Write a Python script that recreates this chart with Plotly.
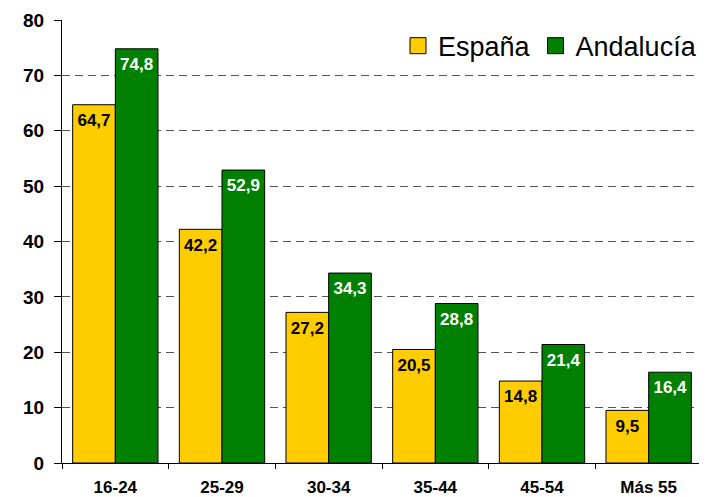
import plotly.graph_objects as go

categories = ["16-24", "25-29", "30-34", "35-44", "45-54", "Más 55"]
espana = [64.7, 42.2, 27.2, 20.5, 14.8, 9.5]
andalucia = [74.8, 52.9, 34.3, 28.8, 21.4, 16.4]
y_ticks = [0, 10, 20, 30, 40, 50, 60, 70, 80]
series_names = ["España", "Andalucía"]
series_colors = ["#FFCC00", "#008000"]
label_colors = ["black", "white"]

def fmt(v):
    return f"{v:.1f}".replace(".", ",")

fig = go.Figure()
for name, vals, col in zip(series_names, [espana, andalucia], series_colors):
    fig.add_trace(go.Bar(
        x=categories, y=vals, name=name,
        marker=dict(color=col, line=dict(color="black", width=1)),
        showlegend=False, hoverinfo="x+y",
    ))
# value labels placed just below each bar top
for name, vals, lc in zip(series_names, [espana, andalucia], label_colors):
    fig.add_trace(go.Scatter(
        x=categories, y=vals, mode="markers+text", name=name + " labels",
        text=[fmt(v) for v in vals], textposition="bottom center",
        textfont=dict(family="Liberation Sans, Arial", size=17, color=lc, weight="bold"),
        marker=dict(size=12, opacity=0), showlegend=False, hoverinfo="skip",
    ))
# legend entries with larger square swatches (on a hidden overlay axis)
for name, col in zip(series_names, series_colors):
    fig.add_trace(go.Scatter(
        x=[None], y=[None], mode="markers", name=name, xaxis="x2",
        marker=dict(symbol="square", size=16, color=col, line=dict(color="black", width=1)),
    ))

fig.update_layout(
    width=699, height=489,
    margin=dict(l=54, r=5, t=12, b=34, autoexpand=False),
    plot_bgcolor="white", paper_bgcolor="white",
    barmode="group", bargap=0.2, bargroupgap=0,
    scattermode="group", scattergap=0.2,
    font=dict(family="Liberation Sans, Arial", color="black"),
    showlegend=True,
    legend=dict(orientation="h", x=1.0, xanchor="right", y=0.941, yanchor="middle",
                font=dict(size=27, color="black"), bgcolor="rgba(0,0,0,0)",
                itemwidth=30, tracegroupgap=0, itemsizing="trace"),
    xaxis2=dict(overlaying="x", visible=False, range=[0, 1]),
)
fig.update_yaxes(
    range=[0, 80], tickvals=y_ticks, showgrid=True, gridcolor="#555555", griddash="8px,5px", gridwidth=1,
    showline=True, linecolor="black", linewidth=1, ticks="outside", ticklen=7, tickcolor="black",
    tickfont=dict(size=19, weight="bold", color="black"), zeroline=False, automargin=False,
    ticklabelstandoff=6,
)
fig.layout.xaxis.update(
    showline=True, linecolor="black", linewidth=1, ticks="outside", ticklen=5, tickcolor="black",
    tickson="boundaries", tickfont=dict(size=17, weight="bold", color="black"), showgrid=False,
    automargin=False, ticklabelstandoff=9,
)

fig.write_html("out.html")
